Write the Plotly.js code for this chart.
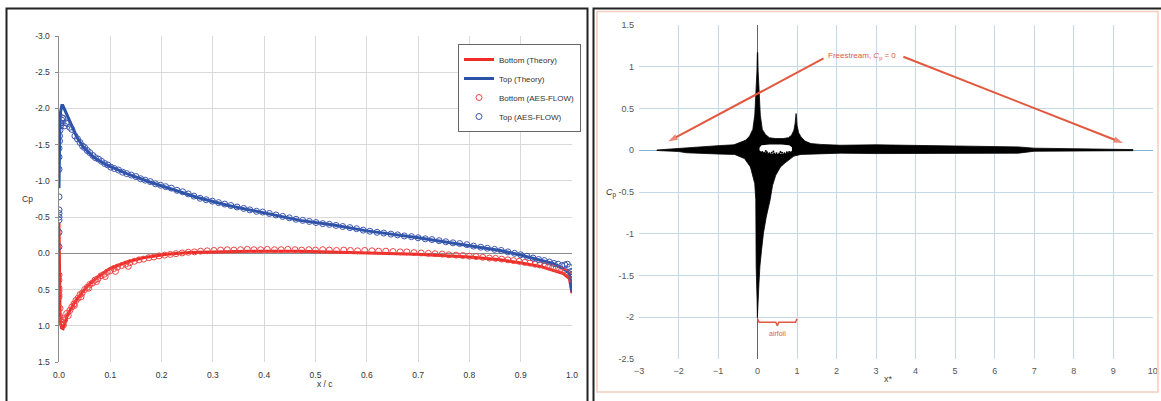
<!DOCTYPE html>
<html>
<head>
<meta charset="utf-8">
<script src="https://cdn.plot.ly/plotly-3.0.1.min.js"></script>
<style>
  html, body { margin: 0; padding: 0; background: #fff; }
  #chart { width: 1161px; height: 401px; }
</style>
</head>
<body>
<div id="chart"></div>
<script>
// ---------- Left panel: Cp along the chord ----------
const botTheoryX  = [0, 0.0003, 0.001, 0.002, 0.0035, 0.005, 0.008, 0.0117, 0.015, 0.0214, 0.031, 0.041, 0.054, 0.073, 0.099, 0.132, 0.164, 0.21, 0.255, 0.30, 0.372, 0.47, 0.6, 0.697, 0.80, 0.86, 0.898, 0.938, 0.963, 0.983, 0.995, 1.0];
const botTheoryCp = [-0.42, 0.1, 0.55, 0.85, 0.98, 1.03, 1.04, 0.96, 0.88, 0.79, 0.67, 0.58, 0.46, 0.34, 0.21, 0.12, 0.06, 0.014, -0.01, -0.02, -0.03, -0.03, -0.01, 0.014, 0.05, 0.09, 0.13, 0.18, 0.235, 0.28, 0.35, 0.55];

const topTheoryX  = [0, 0.0005, 0.0015, 0.003, 0.0055, 0.0075, 0.01, 0.015, 0.0247, 0.0345, 0.047, 0.067, 0.093, 0.132, 0.177, 0.229, 0.27, 0.33, 0.40, 0.47, 0.535, 0.6, 0.697, 0.80, 0.86, 0.898, 0.938, 0.963, 0.983, 0.995, 1.0];
const topTheoryCp = [-0.9, -1.3, -1.7, -1.95, -2.04, -2.04, -2.0, -1.93, -1.77, -1.61, -1.47, -1.33, -1.22, -1.10, -0.985, -0.87, -0.77, -0.66, -0.56, -0.455, -0.39, -0.31, -0.22, -0.11, -0.04, 0.02, 0.09, 0.14, 0.21, 0.28, 0.53];

// AES-FLOW samples as [x/c, Cp]
const botFlow = [
  [0,0.30],[0,0.37],[0,0.48],[0,0.52],[0,0.57],[0,0.60],[0.002,0.76],[0.001,0.86],[0.003,0.92],[0.005,0.95],
  [0.0085,0.99],[0.007,0.90],[0.011,0.92],[0.015,0.83],[0.018,0.86],[0.021,0.79],[0.025,0.74],[0.029,0.70],[0.033,0.65],[0.037,0.62],
  [0.041,0.57],[0.045,0.55],[0.05,0.50],[0.055,0.47],[0.06,0.43],[0.065,0.41],[0.07,0.37],[0.076,0.35],[0.082,0.31],[0.088,0.29],
  [0.094,0.26],[0.10,0.24],[0.107,0.21],[0.114,0.19],[0.122,0.17],[0.13,0.15],[0.138,0.13],[0.147,0.11],[0.156,0.09],[0.165,0.08],
  [0.175,0.06],[0.185,0.05],[0.195,0.035],[0.206,0.025],[0.217,0.015],[0.228,0.005],[0.24,-0.005],[0.252,-0.015],[0.264,-0.02],[0.276,-0.03],
  [0.289,-0.035],[0.302,-0.04],[0.315,-0.045],[0.328,-0.05],[0.341,-0.045],[0.354,-0.05],[0.367,-0.055],[0.38,-0.05],[0.393,-0.05],[0.406,-0.055],
  [0.42,-0.05],[0.433,-0.05],[0.446,-0.055],[0.46,-0.05],[0.473,-0.045],[0.487,-0.05],[0.50,-0.045],[0.514,-0.05],[0.527,-0.045],[0.541,-0.04],
  [0.555,-0.045],[0.568,-0.04],[0.582,-0.035],[0.596,-0.04],[0.61,-0.035],[0.623,-0.03],[0.637,-0.03],[0.651,-0.025],[0.665,-0.02],[0.678,-0.02],
  [0.692,-0.01],[0.706,-0.005],[0.72,0.0],[0.733,0.005],[0.747,0.01],[0.76,0.02],[0.774,0.025],[0.787,0.03],[0.80,0.04],[0.813,0.045],
  [0.826,0.055],[0.839,0.065],[0.851,0.07],[0.863,0.08],[0.875,0.09],[0.886,0.10],[0.897,0.11],[0.908,0.125],[0.918,0.135],[0.928,0.15],
  [0.937,0.16],[0.946,0.17],[0.954,0.185],[0.962,0.20],[0.969,0.21],[0.976,0.22],[0.982,0.24],[0.987,0.26],[0.992,0.27],[0.996,0.30],
  [0.999,0.33],[1.0,0.36],
  [0.03,0.72],[0.043,0.6],[0.058,0.48],[0.073,0.39],[0.09,0.32],[0.11,0.25],[0.135,0.18]
];
const topFlow = [
  [0,-0.09],[0,-0.29],[0,-0.46],[0,-0.50],[0,-0.55],[0,-0.60],[0,-0.78],[0,-1.16],[0,-1.33],[0,-1.45],
  [0.001,-1.55],[0.001,-1.62],[0.002,-1.70],[0.003,-1.76],[0.004,-1.80],[0.005,-1.84],[0.0065,-1.87],[0.008,-1.86],[0.011,-1.76],[0.014,-1.80],
  [0.017,-1.79],[0.021,-1.74],[0.025,-1.71],[0.031,-1.62],[0.036,-1.58],[0.041,-1.53],[0.046,-1.48],[0.05,-1.46],[0.055,-1.42],[0.06,-1.39],
  [0.066,-1.35],[0.071,-1.32],[0.077,-1.30],[0.083,-1.27],[0.089,-1.24],[0.095,-1.22],[0.101,-1.19],[0.108,-1.17],[0.116,-1.15],[0.124,-1.12],
  [0.132,-1.10],[0.141,-1.08],[0.15,-1.06],[0.159,-1.03],[0.168,-1.01],[0.178,-0.99],[0.188,-0.96],[0.198,-0.94],[0.208,-0.92],[0.219,-0.90],
  [0.23,-0.87],[0.241,-0.85],[0.252,-0.82],[0.263,-0.79],[0.275,-0.76],[0.287,-0.74],[0.299,-0.72],[0.311,-0.70],[0.323,-0.68],[0.335,-0.66],
  [0.347,-0.64],[0.36,-0.62],[0.372,-0.60],[0.385,-0.58],[0.397,-0.57],[0.41,-0.55],[0.423,-0.53],[0.436,-0.51],[0.449,-0.49],[0.462,-0.47],
  [0.475,-0.455],[0.488,-0.44],[0.501,-0.425],[0.514,-0.41],[0.527,-0.40],[0.54,-0.385],[0.553,-0.37],[0.567,-0.355],[0.58,-0.34],[0.593,-0.32],
  [0.606,-0.305],[0.62,-0.29],[0.633,-0.28],[0.647,-0.265],[0.66,-0.255],[0.673,-0.24],[0.687,-0.23],[0.70,-0.215],[0.714,-0.20],[0.727,-0.19],
  [0.741,-0.175],[0.754,-0.16],[0.768,-0.145],[0.781,-0.135],[0.795,-0.12],[0.808,-0.10],[0.822,-0.085],[0.835,-0.07],[0.849,-0.055],[0.862,-0.04],
  [0.875,-0.02],[0.888,0.0],[0.90,0.02],[0.912,0.04],[0.924,0.065],[0.935,0.085],[0.946,0.10],[0.956,0.12],[0.965,0.14],[0.973,0.15],
  [0.98,0.17],[0.986,0.16],[0.991,0.15],[0.995,0.19],[0.998,0.25],[1.0,0.29],[1.0,0.33]
];

const leftXTicks = [0, 0.1, 0.2, 0.3, 0.4, 0.5, 0.6, 0.7, 0.8, 0.9, 1.0];
const leftXText  = ['0.0', '0.1', '0.2', '0.3', '0.4', '0.5', '0.6', '0.7', '0.8', '0.9', '1.0'];
const leftYTicks = [-3, -2.5, -2, -1.5, -1, -0.5, 0, 0.5, 1, 1.5];
const leftYText  = ['-3.0', '-2.5', '-2.0', '-1.5', '-1.0', '-0.5', '0.0', '0.5', '1.0', '1.5'];

// ---------- Right panel: Cp cloud over x* ----------
// outline of the sample cloud, upper edge left to right, then lower edge right to left
const cloudUpper = [
  [-2.55,0.003],[-2.3,0.012],[-2.0,0.02],[-1.8,0.035],[-1.5,0.045],[-1.0,0.055],[-0.6,0.065],[-0.45,0.09],[-0.3,0.12],[-0.2,0.17],
  [-0.12,0.25],[-0.07,0.42],[-0.035,0.7],[-0.015,0.95],[-0.005,1.17],[0.005,1.17],[0.015,0.95],[0.035,0.7],[0.07,0.42],[0.12,0.25],
  [0.2,0.19],[0.3,0.15],[0.45,0.14],[0.65,0.14],[0.78,0.15],[0.86,0.18],[0.92,0.24],[0.95,0.32],[0.965,0.4],[0.975,0.44],
  [0.985,0.4],[1.0,0.3],[1.04,0.21],[1.1,0.16],[1.2,0.11],[1.35,0.08],[1.6,0.07],[2.1,0.06],[3.0,0.065],[5.0,0.05],
  [6.6,0.04],[7.0,0.025],[9.0,0.018],[9.5,0.008]
];
const cloudLower = [
  [9.5,-0.005],[9.0,-0.008],[7.0,-0.012],[6.6,-0.035],[5.0,-0.04],[3.0,-0.04],[2.1,-0.035],[1.6,-0.04],[1.1,-0.05],[0.92,-0.07],
  [0.83,-0.1],[0.7,-0.15],[0.58,-0.2],[0.46,-0.3],[0.38,-0.42],[0.32,-0.59],[0.22,-0.8],[0.15,-0.99],[0.1,-1.2],[0.06,-1.39],
  [0.035,-1.6],[0.02,-1.79],[0.008,-2.0],[-0.004,-2.0],[-0.012,-1.79],[-0.025,-1.6],[-0.035,-1.39],[-0.04,-0.99],[-0.045,-0.59],[-0.07,-0.4],
  [-0.125,-0.3],[-0.18,-0.2],[-0.33,-0.1],[-0.58,-0.05],[-1.0,-0.045],[-1.5,-0.04],[-1.8,-0.03],[-2.0,-0.015],[-2.3,-0.01],[-2.55,-0.003]
];
// empty pocket between the two suction peaks
const pocketTop = [[0.05,0.03],[0.1,0.06],[0.3,0.07],[0.6,0.07],[0.8,0.06],[0.87,0.035]];
const pocketBot = [[0.87,-0.01],[0.7,-0.04],[0.5,-0.045],[0.3,-0.04],[0.1,-0.02],[0.05,0.0]];
const pocketDots = [[0.12,-0.02],[0.18,-0.03],[0.24,-0.025],[0.3,-0.035],[0.36,-0.03],[0.42,-0.04],[0.48,-0.035],[0.55,-0.04],[0.62,-0.03],[0.68,-0.035],[0.74,-0.025],[0.8,-0.02],[0.21,-0.01],[0.4,-0.015],[0.58,-0.02]];

// freestream pointers: [tail, head] in (x*, Cp)
const pointerLeft  = [[1.67, 1.10], [-2.26, 0.105]];
const pointerRight = [[3.69, 1.12], [9.25, 0.086]];

// airfoil chord brace under the plot
const braceX  = [0, 0.04, 0.46, 0.5, 0.54, 0.96, 1.0];
const braceCp = [-2.02, -2.06, -2.06, -2.1, -2.06, -2.06, -2.02];

const rightXTicks = [-3, -2, -1, 0, 1, 2, 3, 4, 5, 6, 7, 8, 9, 10];
const rightYTicks = [-2.5, -2, -1.5, -1, -0.5, 0, 0.5, 1, 1.5];
const rightYText  = ['-2.5', '-2', '-1.5', '-1', '-0.5', '0', '0.5', '1', '1.5'];

// ---------- page geometry helpers (pixel -> paper) ----------
const W = 1161, H = 401;
const px = v => v / W;
const py = v => 1 - v / H;

const FONT = 'Liberation Sans, Arial, sans-serif';
const RED = '#ee2b24', BLUE = '#2b53a6';
const RED_M = '#ee4444', BLUE_M = '#3b55b0';
const ANN = '#e2583f';

const col = (arr, i) => arr.map(p => p[i]);
const cloud = cloudUpper.concat(cloudLower);
const pocket = pocketTop.concat(pocketBot);

function pointer(p) {
  return {
    x: col(p, 0), y: col(p, 1), type: 'scatter', mode: 'lines+markers',
    line: { color: ANN, width: 2 },
    marker: { symbol: ['circle', 'arrow'], size: [0, 10], color: ANN, angleref: 'previous',
              line: { width: 0 } },
    showlegend: false, hoverinfo: 'skip', xaxis: 'x2', yaxis: 'y2'
  };
}

const traces = [
  { x: botTheoryX, y: botTheoryCp, name: 'Bottom (Theory)', type: 'scatter', mode: 'lines',
    line: { color: RED, width: 3 }, xaxis: 'x', yaxis: 'y' },
  { x: topTheoryX, y: topTheoryCp, name: 'Top (Theory)', type: 'scatter', mode: 'lines',
    line: { color: BLUE, width: 3 }, xaxis: 'x', yaxis: 'y' },
  { x: col(botFlow, 0), y: col(botFlow, 1), name: 'Bottom (AES-FLOW)', type: 'scatter', mode: 'markers',
    marker: { symbol: 'circle-open', size: 6, color: RED_M, line: { width: 1 } }, xaxis: 'x', yaxis: 'y' },
  { x: col(topFlow, 0), y: col(topFlow, 1), name: 'Top (AES-FLOW)', type: 'scatter', mode: 'markers',
    marker: { symbol: 'circle-open', size: 6, color: BLUE_M, line: { width: 1 } }, xaxis: 'x', yaxis: 'y' },

  { x: col(cloud, 0), y: col(cloud, 1), type: 'scatter', mode: 'lines', fill: 'toself',
    fillcolor: '#000', line: { color: '#000', width: 0.8 }, showlegend: false, hoverinfo: 'skip',
    xaxis: 'x2', yaxis: 'y2' },
  { x: col(pocket, 0), y: col(pocket, 1), type: 'scatter', mode: 'lines', fill: 'toself',
    fillcolor: '#fff', line: { color: '#fff', width: 0 }, showlegend: false, hoverinfo: 'skip',
    xaxis: 'x2', yaxis: 'y2' },
  { x: col(pocketDots, 0), y: col(pocketDots, 1), type: 'scatter', mode: 'markers',
    marker: { color: '#000', size: 2 }, showlegend: false, hoverinfo: 'skip', xaxis: 'x2', yaxis: 'y2' },
  { x: braceX, y: braceCp, type: 'scatter', mode: 'lines', line: { color: ANN, width: 1.5 },
    showlegend: false, hoverinfo: 'skip', xaxis: 'x2', yaxis: 'y2' },
  pointer(pointerLeft),
  pointer(pointerRight)
];

const layout = {
  width: W, height: H,
  margin: { l: 0, r: 0, t: 0, b: 0 },
  paper_bgcolor: '#fff', plot_bgcolor: '#fff',
  font: { family: FONT, size: 8.5, color: '#333' },
  showlegend: true,
  legend: {
    x: px(458), y: py(44), xanchor: 'left', yanchor: 'top',
    bgcolor: '#fff', bordercolor: '#666', borderwidth: 1,
    font: { family: FONT, size: 8, color: '#333' }, tracegroupgap: 0
  },
  xaxis: {
    domain: [px(59), px(572)], range: [0, 1], anchor: 'y',
    tickmode: 'array', tickvals: leftXTicks, ticktext: leftXText,
    showgrid: true, gridcolor: '#d9d9d9', gridwidth: 1,
    zeroline: false, showline: false, ticks: '',
    tickfont: { family: FONT, size: 8.5, color: '#333' }, ticklabelstandoff: 6
  },
  yaxis: {
    domain: [1 - 362 / H, 1 - 36 / H], range: [1.5, -3], anchor: 'x',
    tickmode: 'array', tickvals: leftYTicks, ticktext: leftYText,
    showgrid: true, gridcolor: '#d9d9d9', gridwidth: 1,
    zeroline: true, zerolinecolor: '#8c8c8c', zerolinewidth: 1.5,
    showline: true, linecolor: '#8c8c8c', linewidth: 1.5,
    ticks: 'outside', ticklen: 3, tickcolor: '#8c8c8c',
    tickfont: { family: FONT, size: 8.5, color: '#333' }, ticklabelstandoff: 3
  },
  xaxis2: {
    domain: [px(639), px(1152.7)], range: [-3, 10], anchor: 'y2',
    tickmode: 'array', tickvals: rightXTicks,
    showgrid: true, gridcolor: '#c4d8e8', gridwidth: 1,
    zeroline: true, zerolinecolor: '#666', zerolinewidth: 1.2,
    showline: false, ticks: '',
    tickfont: { family: FONT, size: 9, color: '#555' }, ticklabelstandoff: 5
  },
  yaxis2: {
    domain: [1 - 359 / H, 1 - 25 / H], range: [-2.5, 1.5], anchor: 'x2',
    tickmode: 'array', tickvals: rightYTicks, ticktext: rightYText,
    showgrid: true, gridcolor: '#c4d8e8', gridwidth: 1,
    zeroline: true, zerolinecolor: '#86b4d8', zerolinewidth: 1.2,
    showline: false, ticks: '',
    tickfont: { family: FONT, size: 9, color: '#555' }, ticklabelstandoff: 4
  },
  shapes: [
    // left panel frame
    { type: 'rect', xref: 'paper', yref: 'paper', x0: px(6.5), x1: px(587.5), y0: py(410), y1: py(8.5),
      line: { color: '#222', width: 2 } },
    // right panel frame
    { type: 'path', xref: 'paper', yref: 'paper',
      path: `M ${px(593.5)} ${py(410)} L ${px(593.5)} ${py(8.5)} L ${px(1165)} ${py(8.5)}`,
      line: { color: '#222', width: 2 } },
    { type: 'rect', xref: 'paper', yref: 'paper', x0: px(597), x1: px(1158), y0: py(392), y1: py(11.5),
      line: { color: '#f4cdbf', width: 1.5 } }
  ],
  annotations: [
    { xref: 'paper', yref: 'paper', x: px(20), y: py(199), text: 'Cp', showarrow: false,
      font: { family: FONT, size: 8.5, color: '#333' } },
    { xref: 'paper', yref: 'paper', x: px(315), y: py(391), text: 'x / c', showarrow: false,
      font: { family: FONT, size: 8.5, color: '#333' } },
    { xref: 'paper', yref: 'paper', x: px(611), y: py(193), text: '<i>C</i><sub>p</sub>', showarrow: false,
      font: { family: FONT, size: 9, color: '#333' } },
    { xref: 'paper', yref: 'paper', x: px(895), y: py(386), text: 'x*', showarrow: false,
      font: { family: FONT, size: 9, color: '#444' } },
    { xref: 'x2', yref: 'y2', x: 2.65, y: 1.13, text: 'Freestream, <i>C</i><sub>p</sub> = 0', showarrow: false,
      font: { family: FONT, size: 8, color: ANN } },
    { xref: 'x2', yref: 'y2', x: 0.5, y: -2.19, text: 'airfoil', showarrow: false,
      font: { family: FONT, size: 7, color: ANN } }
  ]
};

Plotly.newPlot('chart', traces, layout, { staticPlot: true, displayModeBar: false });
</script>
</body>
</html>
